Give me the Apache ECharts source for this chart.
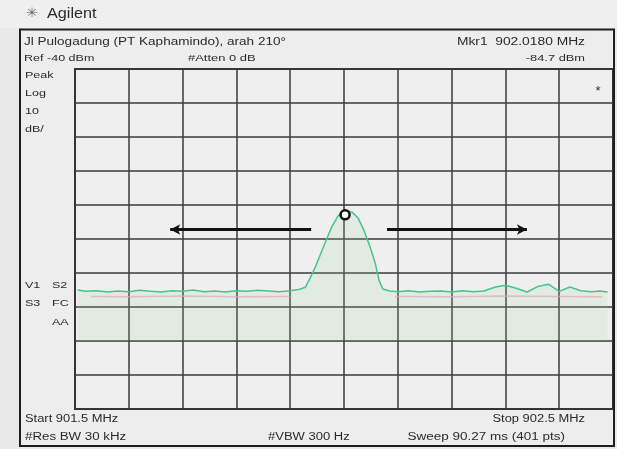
<!DOCTYPE html>
<html><head><meta charset="utf-8">
<script src="https://cdn.jsdelivr.net/npm/echarts@6/dist/echarts.min.js"></script>
<style>html,body{margin:0;padding:0;background:#e9e9e9;}#c{width:617px;height:449px;}</style>
</head><body><div id="c"></div>
<script>
// Frequency (kHz) and level (dBm)
const traceFreqs = [901505,901520,901540,901560,901580,901600,901620,901640,901660,901680,
  901700,901720,901740,901760,901780,901800,901820,901840,901860,901880,
  901900,901918,901928,901937,901946,901955,901967,901978,901989,902002,
  902015,902026,902037,902048,902058,902065,902072,902085,902100,902120,
  902140,902160,902180,902200,902220,902240,902260,902280,902300,902320,
  902340,902360,902380,902400,902420,902440,902460,902475,902490];
const traceLevels = [-105.0,-105.4,-105.2,-105.6,-105.3,-105.5,-105.1,-105.4,-105.6,-105.2,
  -105.4,-105.0,-105.5,-105.3,-105.6,-105.2,-105.4,-105.1,-105.3,-105.5,
  -105.2,-104.8,-104.2,-101.5,-98.5,-95.0,-90.3,-86.2,-83.2,-81.5,
  -82.1,-83.8,-87.4,-92.1,-97.1,-102.1,-104.7,-105.3,-105.5,-105.2,
  -105.6,-105.4,-105.3,-105.6,-105.2,-105.5,-105.3,-104.2,-103.6,-104.5,
  -105.6,-104.0,-103.3,-105.4,-104.1,-105.2,-105.5,-105.3,-105.6];
const pinkFreqs = [901530,901600,901700,901800,901900,901920,902095,902200,902300,902400,902480];
const pinkLevels = [-106.9,-107.0,-106.8,-107.0,-106.9,null,-106.9,-107.0,-106.8,-106.9,-107.0];
const markerPoint = [902002, -82.9];
const arrowLeft = [901939, 901677];
const arrowRight = [902080, 902340];
const arrowLevel = -87.2;
const xRange = [901500, 902500, 100];   // Start 901.5 MHz, Stop 902.5 MHz, 10 divisions
const yRange = [-140, -40, 10];         // Ref -40 dBm, 10 dB/div

const headerTexts = {
  title: 'Jl Pulogadung (PT Kaphamindo), arah 210°',
  ref: 'Ref -40 dBm', atten: '#Atten 0 dB',
  mkr: 'Mkr1  902.0180 MHz', mkrVal: '-84.7 dBm',
  start: 'Start 901.5 MHz', stop: 'Stop 902.5 MHz',
  rbw: '#Res BW 30 kHz', vbw: '#VBW 300 Hz', sweep: 'Sweep 90.27 ms (401 pts)'
};
const sideTexts = ['Peak', 'Log', '10', 'dB/'];

const chart = echarts.init(document.getElementById('c'));
const F = '"Liberation Sans", Arial, sans-serif';
function t(text, x, y, size, align, sx, fontFam, fill) {
  return {type:'text', z:10, x:x, y:y, scaleX: sx || 1.32,
    style:{text, x:0, y:0, font: size + 'px ' + (fontFam || F), fill: fill || '#2a2a2a', textAlign: align||'left', textVerticalAlign:'middle'}};
}
const graphics = [
  {type:'rect', shape:{x:0,y:0,width:617,height:28}, style:{fill:'#efefef'}, z:-20},
  {type:'rect', shape:{x:20,y:29.5,width:594,height:416.5}, style:{fill:'#ededed'}, z:-20},
  {type:'rect', shape:{x:20,y:29.5,width:594,height:416.5}, style:{fill:'none', stroke:'#1e1e1e', lineWidth:2}, z:10},
  t('✳', 26, 14, 13, 'left', 1.1, '"DejaVu Sans"', '#666'),
  t('Agilent', 47, 14, 15, 'left', 1.08),
  t(headerTexts.title, 24, 42, 11, 'left', 1.23),
  t(headerTexts.ref, 24, 58, 9.5),
  t(headerTexts.atten, 188, 58, 9.5, 'left', 1.36),
  t(headerTexts.mkr, 585, 42, 10, 'right', 1.38),
  t(headerTexts.mkrVal, 585, 58, 9.5, 'right', 1.35),
  t(sideTexts[0], 25, 75, 9.5), t(sideTexts[1], 25, 93, 9.5), t(sideTexts[2], 25, 111, 9.5), t(sideTexts[3], 25, 129, 9.5),
  t('V1', 25, 285, 9.5), t('S2', 52, 285, 9.5), t('S3', 25, 303, 9.5), t('FC', 52, 303, 9.5), t('AA', 52, 322, 9.5),
  t(headerTexts.start, 25, 419, 10, 'left', 1.29),
  t(headerTexts.stop, 585, 419, 10, 'right', 1.29),
  t(headerTexts.rbw, 25, 437, 10, 'left', 1.33),
  t(headerTexts.vbw, 268, 437, 10, 'left', 1.3),
  t(headerTexts.sweep, 565, 437, 10, 'right', 1.35),
  t('*', 598, 91, 13, 'center', 1)
];

chart.setOption({
  backgroundColor: '#e9e9e9',
  animation: false,
  graphic: graphics,
  grid: {left:75, top:69, width:538, height:340, show:true, backgroundColor:'#efefef', borderColor:'#2a2a2a', borderWidth:2},
  xAxis: {type:'value', min:xRange[0], max:xRange[1], interval:xRange[2],
    axisLine:{show:false}, axisTick:{show:false}, axisLabel:{show:false},
    splitLine:{show:true, lineStyle:{color:'#3a3a3a', width:1.5}}},
  yAxis: {type:'value', min:yRange[0], max:yRange[1], interval:yRange[2],
    axisLine:{show:false}, axisTick:{show:false}, axisLabel:{show:false},
    splitLine:{show:true, lineStyle:{color:'#3a3a3a', width:1.5}}},
  series: [
    {type:'line', data: pinkFreqs.map((f,i)=>[f,pinkLevels[i]]), symbol:'none', connectNulls:false,
      lineStyle:{color:'rgba(235,160,200,0.7)', width:1.5}, z:2},
    {type:'line', data: traceFreqs.map((f,i)=>[f,traceLevels[i]]), symbol:'none',
      lineStyle:{color:'#45c48c', width:1.5},
      areaStyle:{color:'rgba(150,215,160,0.22)', origin:-120}, z:3,
      markPoint:{symbol:'circle', symbolSize:9, itemStyle:{color:'#ffffff', borderColor:'#111', borderWidth:2.5}, label:{show:false},
        data:[{coord: markerPoint}]},
      markLine:{silent:true, symbol:['none','arrow'], symbolSize:[8,10], label:{show:false},
        lineStyle:{color:'#111', width:3, type:'solid'},
        data:[[{coord:[arrowLeft[0], arrowLevel]},{coord:[arrowLeft[1], arrowLevel]}],
              [{coord:[arrowRight[0], arrowLevel]},{coord:[arrowRight[1], arrowLevel]}]]}}
  ]
});
</script></body></html>
